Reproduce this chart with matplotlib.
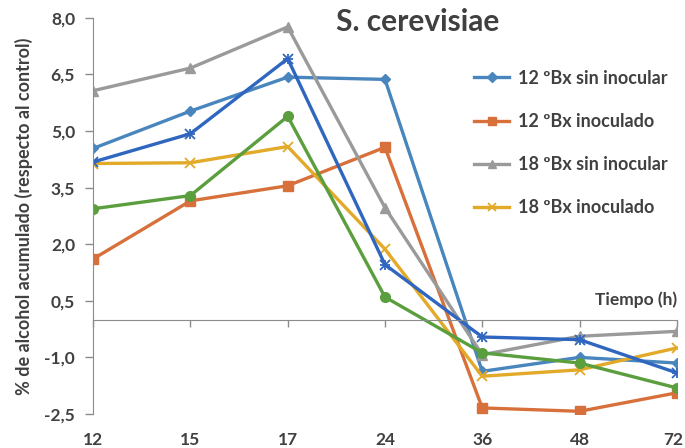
import matplotlib.pyplot as plt
from matplotlib.transforms import blended_transform_factory

# data
tiempo = ["12", "15", "17", "24", "36", "48", "72"]
bx12_sin = [4.54, 5.53, 6.43, 6.37, -1.37, -1.00, -1.15]
bx12_ino = [1.61, 3.15, 3.55, 4.57, -2.34, -2.43, -1.94]
bx18_sin = [6.07, 6.67, 7.76, 2.97, -0.93, -0.44, -0.31]
bx18_ino = [4.14, 4.16, 4.59, 1.87, -1.50, -1.33, -0.75]
serie5 = [4.18, 4.93, 6.92, 1.46, -0.46, -0.53, -1.41]
serie6 = [2.94, 3.29, 5.39, 0.60, -0.88, -1.15, -1.81]
yticks = [-2.5, -1.0, 0.5, 2.0, 3.5, 5.0, 6.5, 8.0]

txt = "#404040"
plt.rcParams["font.family"] = ["Lato", "DejaVu Sans"]
plt.rcParams["font.weight"] = "bold"

fig = plt.figure(figsize=(6.85, 4.48), dpi=100)
ax = fig.add_axes([0.136, 0.076, 0.852, 0.884])

x = list(range(len(tiempo)))
lw = 2.4
ax.plot(x, bx12_sin, color="#4A86BE", lw=lw, marker="D", ms=5.5, label="12 ºBx sin inocular")
ax.plot(x, bx12_ino, color="#D7703A", lw=lw, marker="s", ms=6.5, label="12 ºBx inoculado")
ax.plot(x, bx18_sin, color="#9A9A9A", lw=lw, marker="^", ms=6.5, label="18 ºBx sin inocular")
ax.plot(x, bx18_ino, color="#E3A928", lw=lw, marker="x", ms=6.5, mew=1.3, label="18 ºBx inoculado")
ax.plot(x, serie5, color="#2F66BF", lw=lw, marker="x", ms=6.5, mew=1.3)
ax.plot(x, serie5, color="#2F66BF", lw=0, marker="+", ms=6.5, mew=1.3)
ax.plot(x, serie6, color="#5B9E3E", lw=lw, marker="o", ms=7)

ax.set_xlim(0, 6)
ax.set_ylim(-2.5, 8.0)
ax.set_yticks(yticks)
ax.set_yticklabels([f"{v:.1f}".replace(".", ",") for v in yticks])

for s in ["top", "right"]:
    ax.spines[s].set_visible(False)
ax.spines["left"].set_color("#8C8C8C")
ax.spines["bottom"].set_color("#8C8C8C")
ax.spines["bottom"].set_position(("data", 0))
ax.tick_params(axis="y", colors="#8C8C8C", labelcolor=txt, labelsize=12.5, length=6, width=1, pad=7)
ax.tick_params(axis="x", colors="#8C8C8C", labelbottom=False, length=5, width=1, direction="out")
ax.set_xticks(x)

# category labels sit at the bottom, the axis line itself crosses at 0
tr = blended_transform_factory(ax.transData, ax.transAxes)
for i, t in zip(x, tiempo):
    if i == x[-1]:
        fig.text(0.998, 0.076 - 0.045 * 0.884, t, ha="right", va="top", fontsize=12.5,
                 color=txt, fontweight="bold")
    else:
        ax.text(i, -0.045, t, transform=tr, ha="center", va="top", fontsize=12.5, color=txt,
                fontweight="bold")

ax.text(6, 0.32, "Tiempo (h)", ha="right", va="bottom", fontsize=12.5, color=txt, fontweight="bold")
ax.set_ylabel("% de alcohol acumulado (respecto al control)", fontsize=13, color=txt,
              fontweight="bold", labelpad=8)
fig.text(0.61, 0.951, "S. cerevisiae", ha="center", va="center", fontsize=21.5, color=txt,
         fontweight="bold")

leg = ax.legend(loc="upper left", bbox_to_anchor=(0.625, 0.91), frameon=False, fontsize=13,
                handlelength=1.95, labelspacing=1.45, handletextpad=0.5, markerscale=0.9)
for t in leg.get_texts():
    t.set_color(txt)

fig.savefig("out.png", dpi=100)
